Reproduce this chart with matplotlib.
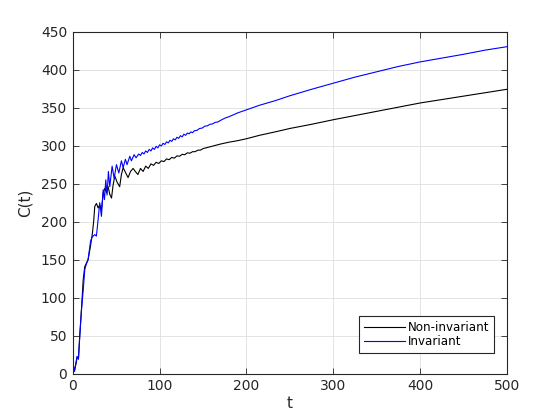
import matplotlib.pyplot as plt

# Non-invariant (black)
t_non = [0, 2, 3.5, 5, 6.5, 8, 10, 12, 13.8, 15.5, 17.6, 20.4, 22.6, 24, 25.3, 27.2, 29.2,
         31, 33, 35, 37, 38.8, 40.7, 42.6, 44.6, 46.4, 48.4, 51, 54, 56, 58, 61, 63.7, 66.5,
         69.5, 72, 75, 78, 81, 84, 87, 90, 93, 96, 99, 102, 105, 108, 111, 114, 117, 120,
         123, 126, 129, 132, 135, 138, 141, 144, 147, 150, 155, 160, 165, 170, 180, 190,
         200, 215, 233, 250, 275, 300, 325, 350, 375, 400, 425, 450, 475, 500]
c_non = [8, 5, 12, 22, 20, 50, 85, 124, 141, 145, 150, 168, 185, 200, 220, 224, 218,
         222, 216, 238, 244, 238, 246, 236, 231, 248, 260, 252, 246, 262, 271, 264, 258, 266,
         270, 266, 262, 270, 266, 273, 270, 276, 274, 278, 276.5, 280, 279, 282.5, 281.5, 284.5,
         283.5, 286.5, 286, 288.5, 288, 290.5, 290, 292, 292, 294, 294, 296, 297.5, 299, 300.5,
         302, 304.5, 306.5, 309, 313.5, 318, 322.5, 328, 334, 339.5, 345, 350.5, 356, 360.5,
         365, 369.5, 374]

# Invariant (blue)
t_inv = [0, 2, 3.5, 5, 6.5, 8, 10, 12, 13.8, 15.5, 17.6, 20.4, 22, 23.4, 25.3, 27.2, 29.2,
         31, 33, 35, 36.5, 38, 39.5, 41, 42.6, 45.3, 47.6, 50.3, 53, 56, 58, 60.6, 62.5,
         65.7, 67.5, 70.6, 72.9, 76, 78, 80, 82, 84, 86, 88, 90, 92, 94, 96, 98, 100, 102,
         104, 106, 108, 110, 112, 114, 116, 118, 120, 122, 124, 126, 128, 130, 132, 134,
         136, 138, 140, 143, 146, 149, 152, 155, 158, 161, 164, 167, 170, 175, 180, 185,
         190, 195, 200, 215, 233, 250, 275, 300, 325, 350, 375, 400, 425, 450, 475, 500]
c_inv = [16, 3, 14, 23, 19, 49, 84, 110, 137, 144, 150, 174, 179, 181, 183, 181, 203,
         225, 207, 242, 229, 255, 235, 266, 246, 273, 257, 275, 264, 280, 271, 282, 275,
         286, 280, 288, 284, 289, 287, 291, 289, 293, 291, 295, 293, 297, 295, 299, 297, 301,
         299.5, 303, 301.5, 305, 303.5, 307, 305.5, 309, 307.5, 311, 309.5, 313, 311.5, 315,
         313.5, 316.5, 315.5, 318, 317, 319.5, 320, 322.5, 323, 325.5, 326, 328, 328.5, 330.5,
         331, 333, 336, 338, 340.5, 343, 345, 347, 353, 359, 365.5, 374, 382, 390, 397,
         404, 410, 415, 420, 425.5, 430]

plt.rcParams['font.family'] = 'DejaVu Sans'
fig = plt.figure(figsize=(5.6, 4.2), dpi=100)
ax = fig.add_axes([0.13, 0.11, 0.775, 0.815])

ax.plot(t_non, c_non, color='black', linewidth=0.8, label='Non-invariant')
ax.plot(t_inv, c_inv, color='#0000ff', linewidth=0.8, label='Invariant')

ax.set_xlim(0, 500)
ax.set_ylim(0, 450)
ax.set_xticks(range(0, 501, 100))
ax.set_yticks(range(0, 451, 50))
ax.grid(True, color='#dedede', linewidth=0.6)
ax.set_axisbelow(True)
ax.tick_params(direction='in', length=4, width=0.6, top=True, right=True,
               labelsize=10, colors='#262626', pad=4)
for s in ax.spines.values():
    s.set_color('#262626')
    s.set_linewidth(0.8)

ax.set_xlabel('t', fontsize=11, color='#262626', labelpad=2)
ax.set_ylabel('C(t)', fontsize=11, color='#262626', labelpad=6)

# legend box placed at the lower right, like the reference
leg = ax.legend(loc='lower right', bbox_to_anchor=(494 / 560, 1 - 353 / 420),
                bbox_transform=fig.transFigure, fontsize=8.6, fancybox=False,
                framealpha=1, edgecolor='#262626', handlelength=3.5,
                handletextpad=0.2, borderpad=0.4, labelspacing=0.12,
                borderaxespad=0)
leg.get_frame().set_linewidth(0.8)

fig.savefig('out.png', dpi=100)
